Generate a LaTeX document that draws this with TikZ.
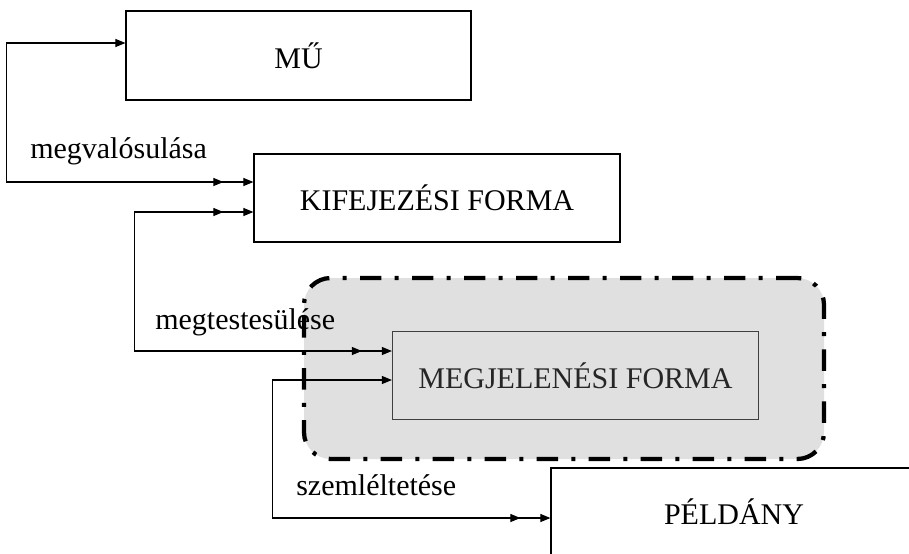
\documentclass[tikz,border=0pt]{standalone}
\usepackage{fontspec}
\setmainfont{Liberation Serif}
\usetikzlibrary{arrows.meta,calc}
\definecolor{keretszurke}{RGB}{224,224,224}

\begin{document}
\begin{tikzpicture}[x=0.75pt,y=-0.75pt,font=\fontsize{22.5}{27}\selectfont]
  \tikzset{hegy/.tip={Triangle[length=7.5pt,width=6pt]}}
  \tikzstyle{entitas}=[rectangle,draw=black,line width=0.9pt,inner sep=0pt,
                       minimum width=274.5pt,minimum height=66pt]
  \tikzstyle{kapcsolat}=[line width=0.8pt,black]
  \tikzstyle{egytobb}=[kapcsolat,{hegy}-{hegy[sep=15pt]hegy}]
  \tikzstyle{tobbtobb}=[kapcsolat,{hegy[]hegy[sep=15pt]}-{hegy[sep=15pt]hegy}]
  \tikzstyle{felirat}=[anchor=base west,inner sep=0pt]
  \path[use as bounding box,clip] (0,0) rectangle (909,553);
  % kiemelt keret
  \node [rectangle,rounded corners=20pt,fill=keretszurke,draw=black,line width=3.2pt,
         dash pattern=on 16pt off 10pt on 3pt off 10pt,
         minimum width=390pt,minimum height=135.75pt] (keret) at (564,368.5) {};
  % entitasok
  \node [entitas,minimum width=258.75pt,minimum height=66.75pt] (mu) at (298.5,55.5) {MŰ};
  \node [entitas] (kif) at (437,198) {KIFEJEZÉSI FORMA};
  \node [entitas,draw=black!75,text=black!85] (meg) at (575.5,375.5) {MEGJELENÉSI FORMA};
  \node [entitas] (pel) at (734,512) {PÉLDÁNY};
  % kapcsolatok
  \draw [egytobb] ($(mu.west)+(0,-12.5)$) -- ++(-118.5,0) |- ($(kif.west)+(0,-16)$);
  \draw [tobbtobb] ($(kif.west)+(0,14)$) -- ++(-119,0) |- ($(meg.west)+(0,-24.5)$);
  \draw [egytobb] ($(meg.west)+(0,4.5)$) -- ++(-119.5,0) |- ($(pel.west)+(0,6)$);
  \node [felirat] (megval) at (30,158) {megvalósulása};
  \node [felirat] (megtest) at (155,329) {megtestesülése};
  \node [felirat] (szeml) at (296,495) {szemléltetése};
\end{tikzpicture}
\end{document}
